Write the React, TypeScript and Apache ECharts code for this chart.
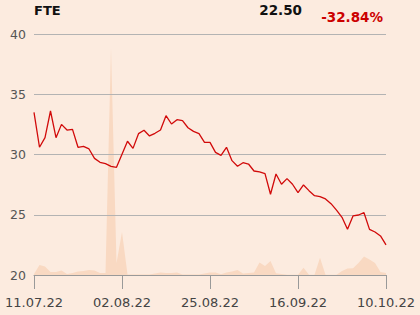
import React, { useEffect, useRef } from "react";
import * as echarts from "echarts";

const dates = [
  "11.07.22", "12.07.22", "13.07.22", "14.07.22", "15.07.22",
  "18.07.22", "19.07.22", "20.07.22", "21.07.22", "22.07.22",
  "25.07.22", "26.07.22", "27.07.22", "28.07.22", "29.07.22",
  "01.08.22", "02.08.22", "03.08.22", "04.08.22", "05.08.22",
  "08.08.22", "09.08.22", "10.08.22", "11.08.22", "12.08.22",
  "16.08.22", "17.08.22", "18.08.22", "19.08.22",
  "22.08.22", "23.08.22", "24.08.22", "25.08.22", "26.08.22",
  "29.08.22", "30.08.22", "31.08.22", "01.09.22", "02.09.22",
  "05.09.22", "06.09.22", "07.09.22", "08.09.22", "09.09.22",
  "12.09.22", "13.09.22", "14.09.22", "15.09.22", "16.09.22",
  "19.09.22", "20.09.22", "21.09.22", "22.09.22", "23.09.22",
  "26.09.22", "27.09.22", "28.09.22", "29.09.22", "30.09.22",
  "03.10.22", "04.10.22", "05.10.22", "06.10.22", "07.10.22",
  "10.10.22",
];

const prices = [
  33.5, 30.6, 31.4, 33.61, 31.4, 32.5, 32.03, 32.09, 30.6, 30.68,
  30.46, 29.68, 29.35, 29.24, 29.02, 28.94, 30.02, 31.1, 30.51, 31.73,
  32.01, 31.54, 31.76, 32.03, 33.22, 32.53, 32.89, 32.81, 32.22, 31.92,
  31.73, 31.01, 31.01, 30.18, 29.93, 30.6, 29.49, 29.02, 29.32, 29.21,
  28.63, 28.55, 28.41, 26.7, 28.38, 27.53, 28.0, 27.53, 26.83, 27.47,
  27.0, 26.58, 26.5, 26.31, 25.92, 25.39, 24.79, 23.79, 24.9, 24.98,
  25.17, 23.79, 23.57, 23.24, 22.5,
];

const volumes = [
  1, 10, 8.5, 3, 3, 4.5, 1, 2, 3.5, 4,
  5, 4.5, 2, 2, 227, 12, 43, 0.5, 0.5, 0.5,
  0.5, 0.5, 1.5, 2.5, 2, 2, 2.5, 0.5, 0.5, 0.5,
  0.5, 1.5, 2.5, 2.5, 0.7, 2.5, 3.5, 5, 1.5, 2,
  2.5, 12.5, 9, 14, 1.7, 1, 0.3, 0.3, 0.3, 7.3,
  0.3, 0.3, 17.3, 0.3, 0.3, 0.3, 4, 6.5, 6.7, 12,
  18.5, 15.5, 12, 3, 2,
];

const yTicks = { min: 20, max: 40, interval: 5 };
const ticker = "FTE";
const lastPrice = "22.50";
const changePct = "-32.84%";

export default function App() {
  const ref = useRef<HTMLDivElement>(null);

  useEffect(() => {
    document.body.style.margin = "0";
    const chart = echarts.init(ref.current!, null, { renderer: "svg" });
    chart.setOption({
      animation: false,
      backgroundColor: "#fcebdf",
      textStyle: { fontFamily: "DejaVu Sans" },
      grid: { left: 34, right: 34, top: 34, bottom: 40 },
      graphic: [
        {
          type: "text",
          left: 34,
          top: 4,
          style: {
            text: ticker,
            font: "bold 13px 'DejaVu Sans'",
            fill: "#111",
          },
        },
        {
          type: "text",
          x: 302,
          y: 9.5,
          style: {
            text: lastPrice,
            font: "bold 13.5px 'DejaVu Sans'",
            fill: "#111",
            align: "right",
            verticalAlign: "middle",
          },
        },
        {
          type: "text",
          x: 383,
          y: 16.5,
          style: {
            text: changePct,
            font: "bold 13.5px 'DejaVu Sans'",
            fill: "#cc0000",
            align: "right",
            verticalAlign: "middle",
          },
        },
      ],
      xAxis: {
        type: "category",
        data: dates,
        boundaryGap: false,
        z: 3,
        axisLine: { lineStyle: { color: "#999999", width: 1 } },
        axisTick: {
          show: true,
          interval: 15,
          length: 14,
          lineStyle: { color: "#999999" },
        },
        axisLabel: {
          interval: 15,
          margin: 21,
          color: "#444444",
          fontSize: 13,
          fontFamily: "DejaVu Sans",
          showMinLabel: true,
          showMaxLabel: true,
        },
        splitLine: { show: false },
      },
      yAxis: [
        {
          type: "value",
          min: yTicks.min,
          max: yTicks.max,
          interval: yTicks.interval,
          z: 3,
          axisLine: { show: false },
          axisTick: { show: false },
          axisLabel: {
            color: "#555555",
            fontSize: 12.5,
            margin: 8,
            fontFamily: "DejaVu Sans",
          },
          splitLine: { lineStyle: { color: "#b3b3b3", width: 1 } },
        },
        {
          type: "value",
          min: 0,
          max: 241,
          show: false,
          splitLine: { show: false },
        },
      ],
      series: [
        {
          type: "line",
          yAxisIndex: 1,
          data: volumes,
          symbol: "none",
          z: 1,
          lineStyle: { width: 0 },
          areaStyle: { color: "#f9d9c2", opacity: 1 },
          silent: true,
        },
        {
          type: "line",
          yAxisIndex: 0,
          data: prices,
          symbol: "none",
          z: 5,
          lineStyle: { color: "#d10a0a", width: 1.3 },
        },
      ],
    });
    return () => chart.dispose();
  }, []);

  return <div ref={ref} style={{ width: 420, height: 315 }} />;
}
